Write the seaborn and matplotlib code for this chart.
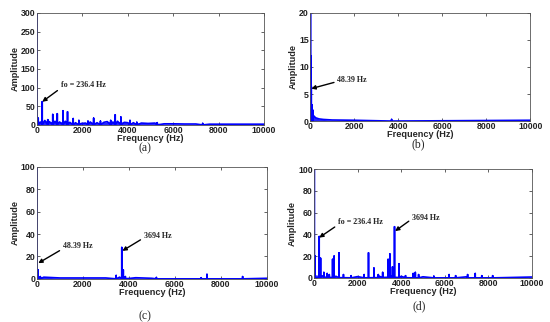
import matplotlib
matplotlib.use("Agg")
import matplotlib.pyplot as plt
import seaborn as sns

# Spectrum peaks (Hz, amplitude) and noise floor
A_PEAK_F = [12, 60, 236.4, 480, 700, 900, 1150, 1350, 1600, 1850, 2250, 2500, 2800, 3250, 3450, 3700, 4100, 4400, 5300, 7300]
A_PEAK_A = [300, 18, 62, 14, 28, 30, 38, 35, 17, 12, 10, 18, 10, 12, 27, 21, 12, 7, 6, 4]
A_FLOOR_F = [0, 150, 350, 550, 800, 1000, 1250, 1450, 1700, 1950, 2150, 2350, 2650, 2950, 3100, 3350,
             3550, 3850, 4000, 4250, 4600, 4900, 5200, 5600, 6000, 6500, 7000, 7600, 8200, 8800, 9400, 10000]
A_FLOOR_A = [10, 8, 12, 9, 10, 8, 10, 7, 6, 4, 5, 8, 6, 7, 9, 8, 10, 7, 6, 6, 5, 4, 5, 3, 3, 2.5, 2.5, 2, 2, 2, 2, 2]

B_PEAK_F = [12, 25, 48.39, 80, 120, 3700]
B_PEAK_A = [20, 12, 6.5, 3, 2, 0.3]
B_FLOOR_F = [0, 150, 250, 400, 600, 1000, 2000, 10000]
B_FLOOR_A = [2, 1, 0.6, 0.4, 0.3, 0.2, 0.15, 0.15]

C_PEAK_F = [12, 48.39, 150, 3450, 3694, 3760, 3850, 5200, 7150, 7400, 8950]
C_PEAK_A = [100, 8, 2, 3, 28, 8, 2, 1.2, 1, 4, 2]
C_FLOOR_F = [0, 300, 1000, 3000, 3600, 4300, 5000, 10000]
C_FLOOR_A = [3, 1.5, 0.8, 0.8, 1.5, 1, 0.5, 0.5]

D_PEAK_F = [12, 50, 236.4, 300, 450, 600, 700, 850, 920, 1150, 1350, 1700, 2300, 2500, 2750, 2950, 3150,
            3400, 3480, 3600, 3694, 3900, 4200, 4550, 4650, 4800, 5500, 6200, 6500, 7050, 7400, 7700, 8200]
D_PEAK_A = [100, 20, 38, 18, 5, 4, 3, 17, 20, 23, 3, 2, 3, 23, 9, 3, 5,
            17, 22, 10, 47, 13, 2, 4, 5, 3, 1.5, 3, 2, 3, 4, 2, 2]
D_FLOOR_F = [0, 400, 1000, 2000, 3000, 3500, 4000, 5000, 7000, 10000]
D_FLOOR_A = [3, 2, 1.5, 1.2, 1.5, 2, 1.5, 1, 1, 0.8]

X_TICKS = [0, 2000, 4000, 6000, 8000, 10000]
PANELS = ["(a)", "(b)", "(c)", "(d)"]


def trace(peak_f, peak_a, floor_f, floor_a):
    pts = [(f, a, 0) for f, a in zip(floor_f, floor_a)] + [(f, a, 1) for f, a in zip(peak_f, peak_a)]
    pts.sort(key=lambda p: p[0])
    xs, ys = [], []
    for f, a, is_peak in pts:
        if is_peak:
            xs += [f, f, f]
            ys += [0, a, 0]
        else:
            xs.append(f)
            ys.append(a)
    return xs, ys


sns.set_theme(style="ticks")
plt.rcParams["font.family"] = ["Liberation Sans", "DejaVu Sans"]

fig = plt.figure(figsize=(5.5, 3.22), dpi=100)
rects = [
    [0.067, 0.612, 0.413, 0.348],
    [0.564, 0.624, 0.400, 0.336],
    [0.067, 0.134, 0.418, 0.348],
    [0.571, 0.137, 0.396, 0.338],
]
data = [
    (A_PEAK_F, A_PEAK_A, A_FLOOR_F, A_FLOOR_A, 300, [0, 50, 100, 150, 200, 250, 300]),
    (B_PEAK_F, B_PEAK_A, B_FLOOR_F, B_FLOOR_A, 20, [0, 5, 10, 15, 20]),
    (C_PEAK_F, C_PEAK_A, C_FLOOR_F, C_FLOOR_A, 100, [0, 20, 40, 60, 80, 100]),
    (D_PEAK_F, D_PEAK_A, D_FLOOR_F, D_FLOOR_A, 100, [0, 20, 40, 60, 80, 100]),
]
label_pos = [(0.264, 0.540), (0.760, 0.552), (0.264, 0.019), (0.762, 0.050)]

axes = []
for rect, (pf, pa, ff, fa, ymax, yt), lab, lp in zip(rects, data, PANELS, label_pos):
    ax = fig.add_axes(rect)
    xs, ys = trace(pf, pa, ff, fa)
    ax.fill_between(ff, fa, color="#0000ff", alpha=0.85, lw=0)
    sns.lineplot(x=xs, y=ys, sort=False, estimator=None, color="#0000ff", lw=1.2, ax=ax)
    ax.set_xlim(0, 10000)
    ax.set_ylim(0, ymax)
    ax.set_xticks(X_TICKS)
    ax.set_yticks(yt)
    ax.tick_params(direction="in", length=2, width=0.5, labelsize=6.3, pad=1,
                   top=True, right=True, colors="#222222")
    for t in ax.get_xticklabels() + ax.get_yticklabels():
        t.set_fontweight("bold")
    for s in ax.spines.values():
        s.set_color("#555555")
        s.set_linewidth(0.6)
    ax.set_xlabel("Frequency (Hz)", fontsize=6.6, fontweight="bold", labelpad=-1)
    ax.set_ylabel("Amplitude", fontsize=6.6, fontweight="bold", labelpad=1)
    fig.text(lp[0], lp[1], lab, fontsize=8.5, family="Liberation Serif", ha="center", va="center")
    axes.append(ax)

arrow = dict(arrowstyle="-|>", color="black", lw=1.0, mutation_scale=6, shrinkA=0, shrinkB=0)
txt = dict(fontsize=5.8, fontweight="bold", family="Liberation Serif", ha="left", va="center")

axes[0].annotate("fo = 236.4 Hz", xy=(236.4, 62), xytext=(1050, 107),
                 arrowprops=dict(arrow, relpos=(0, 0.1)), **txt)
axes[1].annotate("48.39 Hz", xy=(48.39, 6.0), xytext=(1230, 7.6),
                 arrowprops=dict(arrow, relpos=(0, 0.3)), **txt)
axes[2].annotate("48.39 Hz", xy=(60, 14), xytext=(1130, 29),
                 arrowprops=dict(arrow, relpos=(0, 0.2)), **txt)
axes[2].annotate("3694 Hz", xy=(3720, 25), xytext=(4650, 38),
                 arrowprops=dict(arrow, relpos=(0, 0.3)), **txt)
axes[3].annotate("fo = 236.4 Hz", xy=(236.4, 37), xytext=(1100, 51),
                 arrowprops=dict(arrow, relpos=(0, 0.2)), **txt)
axes[3].annotate("3694 Hz", xy=(3720, 43), xytext=(4500, 55),
                 arrowprops=dict(arrow, relpos=(0, 0.4)), **txt)

fig.savefig("out.png", dpi=100)
